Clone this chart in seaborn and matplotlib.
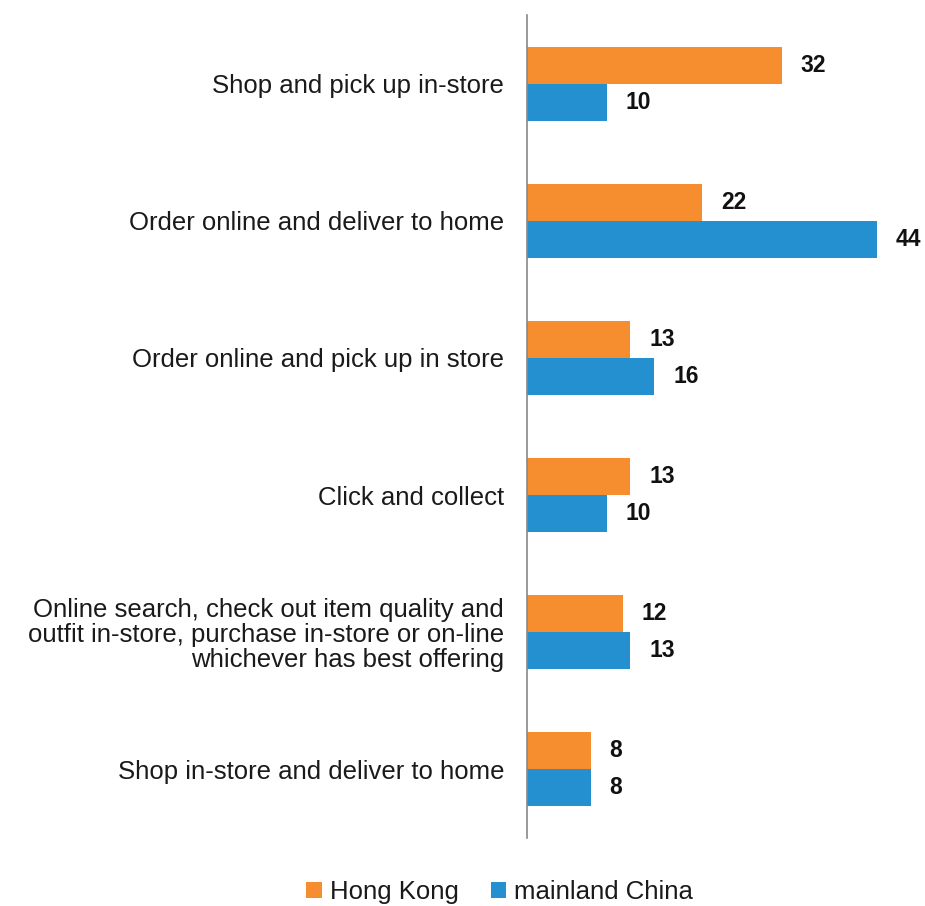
import matplotlib
matplotlib.use("Agg")
import matplotlib.pyplot as plt
import seaborn as sns
import pandas as pd

categories = [
    "Shop and pick up in-store",
    "Order online and deliver to home",
    "Order online and pick up in store",
    "Click and collect",
    "Online search, check out item quality and\noutfit in-store, purchase in-store or on-line\nwhichever has best offering",
    "Shop in-store and deliver to home",
]
hong_kong = [32, 22, 13, 13, 12, 8]
mainland_china = [10, 44, 16, 10, 13, 8]
series_names = ["Hong Kong", "mainland China"]
colors = ["#F68D2E", "#2490D0"]

df = pd.DataFrame({
    "category": categories * 2,
    "value": hong_kong + mainland_china,
    "region": [series_names[0]] * len(categories) + [series_names[1]] * len(categories),
})

sns.set_theme(style="white")
plt.rcParams["font.family"] = ["Liberation Sans", "DejaVu Sans"]

fig = plt.figure(figsize=(9.25, 9.06), dpi=100)
ax = fig.add_axes([527 / 925, 68 / 906, 398 / 925, 823 / 906])

sns.barplot(data=df, y="category", x="value", hue="region", order=categories,
            hue_order=series_names, palette=colors, orient="h", width=0.54,
            saturation=1, ax=ax, legend=True, linewidth=0)

ax.set_xlim(0, 50)
ax.set_ylim(len(categories) - 0.5, -0.5)
ax.set_xlabel("")
ax.set_ylabel("")
ax.set_xticks([])
for s in ["top", "right", "bottom"]:
    ax.spines[s].set_visible(False)
ax.spines["left"].set_color("#888888")
ax.spines["left"].set_linewidth(1.2)
ax.tick_params(axis="y", length=0, pad=16.5, labelsize=18.5, labelcolor="#1a1a1a")
for lbl in ax.get_yticklabels():
    lbl.set_horizontalalignment("right")
    lbl.set_multialignment("right")
    lbl.set_linespacing(1.05)

for cont in ax.containers:
    ax.bar_label(cont, labels=[f"{int(v)}" for v in cont.datavalues], padding=13.5,
                 fontsize=16.5, fontweight="bold", color="#111111")

handles, labels = ax.get_legend_handles_labels()
ax.legend_.remove()
fig.legend(handles, labels, loc="center", bbox_to_anchor=(0.54, 14 / 906),
           ncol=2, frameon=False, fontsize=18.5, handlelength=0.6, handleheight=0.6,
           handletextpad=0.3, columnspacing=1.25, labelcolor="#1a1a1a")

fig.savefig("out.png", dpi=100)
